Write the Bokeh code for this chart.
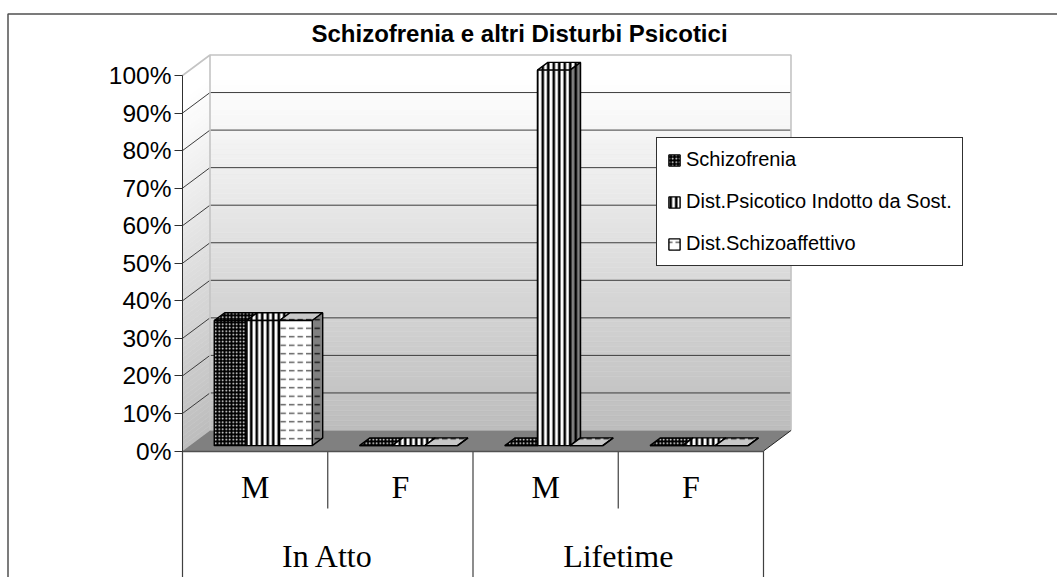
from bokeh.plotting import figure
from bokeh.embed import file_html
from bokeh.resources import INLINE
from bokeh.models import (LinearAxis, FixedTicker, Range1d, Legend, LegendItem)
from bokeh.core.properties import value

TITLE = "Schizofrenia e altri Disturbi Psicotici"
sexes = ["M", "F", "M", "F"]
groups = ["In Atto", "Lifetime"]
series_names = ["Schizofrenia", "Dist.Psicotico Indotto da Sost.", "Dist.Schizoaffettivo"]
schizofrenia = [33.33, 0, 0, 0]
indotto = [33.33, 0, 100, 0]
schizoaffettivo = [33.33, 0, 0, 0]
y_ticks = [0, 10, 20, 30, 40, 50, 60, 70, 80, 90, 100]

W, H = 1057, 577
PX_CAT = (763 - 182) / 4.0
PX_PCT = 3.755
X0_PX, Y0_PX = 182, 450.5

def px_x(px):
    return (px - X0_PX) / PX_CAT
def px_y(px):
    return (Y0_PX - px) / PX_PCT

DX = 27.5 / PX_CAT      # depth offset of the back wall, x units
DY = 20.5 / PX_PCT      # depth offset of the back wall, y units
D0, D1 = 0.26, 0.64     # bar depth extent as fraction of floor depth
MARGIN = 24.6 / PX_CAT
BW = 32.67 / PX_CAT

p = figure(width=W, height=H, output_backend="svg", toolbar_location=None,
           x_range=Range1d(px_x(0), px_x(W)), y_range=Range1d(px_y(H), px_y(0)),
           min_border=0, outline_line_color=None, background_fill_color="white",
           border_fill_color="white", x_axis_location=None, y_axis_location=None)
p.grid.visible = False

# walls with a vertical gradient
NB = 76
def shade(t):
    t = max(0.0, (t - 0.06) / 0.94)
    v = int(round(255 - (255 - 189) * t))
    return "#%02x%02x%02x" % (v, v, v)
xs_l, ys_l, cols = [], [], []
for i in range(NB):
    lo, hi = 100 * i / NB, 100 * (i + 1) / NB
    t = 1 - (lo + hi) / 200
    cols.append(shade(t))
    xs_l.append([0, DX, DX, 0])
    ys_l.append([lo, lo + DY, hi + DY, hi])
p.patches(xs_l, ys_l, fill_color=cols, line_color=cols, line_width=0.5)
p.quad(left=[DX] * NB, right=[4 + DX] * NB,
       bottom=[100 * i / NB + DY for i in range(NB)],
       top=[100 * (i + 1) / NB + DY for i in range(NB)],
       fill_color=cols, line_color=cols, line_width=0.5)

# gridlines
for v in y_ticks[1:-1]:
    p.line([0, DX, 4 + DX], [v, v + DY, v + DY], line_color="#3c3c3c", line_width=1)
# light frame of the walls
p.line([0, DX, DX], [100, 100 + DY, DY], line_color="#c4c4c4", line_width=1.6)
p.line([DX, 4 + DX, 4 + DX], [100 + DY, 100 + DY, DY], line_color="#c4c4c4", line_width=1.6)

# floor
p.patch([0, DX, 4 + DX, 4], [0, DY, DY, 0], fill_color="#808080", line_color=None)
p.line([4, 4 + DX], [0, DY], line_color="#222222", line_width=1)

FACE = [
    dict(fill_color="#000000", hatch_pattern="dot", hatch_color="#ffffff", hatch_scale=3.5, hatch_weight=0.9),
    dict(fill_color="#ffffff", hatch_pattern="vertical_line", hatch_color="#000000", hatch_scale=5.5, hatch_weight=2.6),
    dict(fill_color="#ffffff", hatch_pattern="horizontal_dash", hatch_color="#555555", hatch_scale=8.5, hatch_weight=1.4),
]
TOP = [
    dict(fill_color="#000000", hatch_pattern="dot", hatch_color="#ffffff", hatch_scale=3.5, hatch_weight=0.9),
    dict(fill_color="#ffffff", hatch_pattern="vertical_line", hatch_color="#000000", hatch_scale=5.5, hatch_weight=2.6),
    dict(fill_color="#c8c8c8", hatch_pattern="horizontal_dash", hatch_color="#222222", hatch_scale=8.5, hatch_weight=1.4),
]
SIDE = dict(fill_color="#808080", hatch_pattern="horizontal_dash", hatch_color="#111111", hatch_scale=8.5, hatch_weight=1.4)

fronts = []
for s, vals in enumerate([schizofrenia, indotto, schizoaffettivo]):
    lefts = [c + MARGIN + s * BW + D0 * DX for c in range(4)]
    rights = [l + BW for l in lefts]
    base = D0 * DY
    tops = [base + v for v in vals]
    # top face
    tx = [[l, l + (D1 - D0) * DX, r + (D1 - D0) * DX, r] for l, r in zip(lefts, rights)]
    ty = [[t, t + (D1 - D0) * DY, t + (D1 - D0) * DY, t] for t in tops]
    p.patches(tx, ty, line_color="#000000", line_width=1.4, **TOP[s])
    # side face (only the last series shows it)
    if s == 2:
        sx = [[r, r + (D1 - D0) * DX, r + (D1 - D0) * DX, r] for r in rights]
        sy = [[base, base + (D1 - D0) * DY, t + (D1 - D0) * DY, t] for t in tops]
        p.patches(sx, sy, line_color="#000000", line_width=1.4, **SIDE)
    elif s == 1:
        sx = [[rights[2], rights[2] + (D1 - D0) * DX, rights[2] + (D1 - D0) * DX, rights[2]]]
        sy = [[base, base + (D1 - D0) * DY, tops[2] + (D1 - D0) * DY, tops[2]]]
        p.patches(sx, sy, fill_color="#808080", hatch_pattern="vertical_line", hatch_color="#000000",
                  hatch_scale=5.5, hatch_weight=2.6, line_color="#000000", line_width=1.4)
    r = p.quad(left=lefts, right=rights, bottom=[base] * 4, top=tops,
               line_color="#000000", line_width=1.4, **FACE[s])
    fronts.append(r)

# value axis drawn at the front left edge of the walls
yax = LinearAxis(fixed_location=0, ticker=FixedTicker(ticks=y_ticks), bounds=(0, 100),
                 major_label_overrides={v: f"{v}%" for v in y_ticks},
                 major_label_text_font="Liberation Sans", major_label_text_font_size="24.5px",
                 major_label_text_color="#000000", major_label_standoff=3,
                 major_tick_in=0, major_tick_out=8, minor_tick_line_color=None,
                 major_tick_line_color="#303030", axis_line_color="#303030", axis_line_width=1)
p.add_layout(yax, "left")

# category axes under the floor
catax = LinearAxis(fixed_location=0, ticker=FixedTicker(ticks=[0.5, 1.5, 2.5, 3.5]),
                   major_label_overrides={0.5: sexes[0], 1.5: sexes[1], 2.5: sexes[2], 3.5: sexes[3]},
                   major_label_text_font="Liberation Serif", major_label_text_font_size="32px",
                   major_label_text_color="#000000", major_label_standoff=12,
                   major_tick_line_color=None, minor_tick_line_color=None,
                   axis_line_color="#505050", axis_line_width=1.5, bounds=(0, 4))
p.add_layout(catax, "below")
grpax = LinearAxis(fixed_location=0, ticker=FixedTicker(ticks=[1, 3]),
                   major_label_overrides={1: groups[0], 3: groups[1]},
                   major_label_text_font="Liberation Serif", major_label_text_font_size="32px",
                   major_label_text_color="#000000", major_label_standoff=81,
                   major_tick_line_color=None, minor_tick_line_color=None, axis_line_color=None)
p.add_layout(grpax, "below")

# separators of the category table
y_short = px_y(508)
y_long = px_y(H)
p.segment(x0=[0, 1, 2, 3, 4], y0=[0] * 5, x1=[0, 1, 2, 3, 4],
          y1=[y_long, y_short, y_long, y_short, y_long],
          line_color="#404040", line_width=1.2)

# chart frame
fx = px_x(7.5)
ftop = px_y(13.5)
p.line([px_x(W), fx, fx], [ftop, ftop, px_y(H)], line_color="#505050", line_width=1.5)

# title
p.text(x=[px_x(519)], y=[px_y(33)], text=[TITLE], text_align="center", text_baseline="middle",
       text_font=value("Liberation Sans"), text_font_style="bold", text_font_size="24px", text_color="#000000")

legend = Legend(items=[LegendItem(label=n, renderers=[r]) for n, r in zip(series_names, fronts)],
                location=(656, 311), orientation="vertical", margin=0, padding=10, spacing=19,
                glyph_width=14, glyph_height=14, label_standoff=5, label_height=20,
                label_text_font="Liberation Sans", label_text_font_size="20px", label_text_color="#000000",
                border_line_color="#303030", border_line_width=1.2, border_line_alpha=1.0,
                background_fill_alpha=1.0, background_fill_color="white")
p.add_layout(legend, "center")

open("out.html", "w").write(file_html(p, INLINE))
